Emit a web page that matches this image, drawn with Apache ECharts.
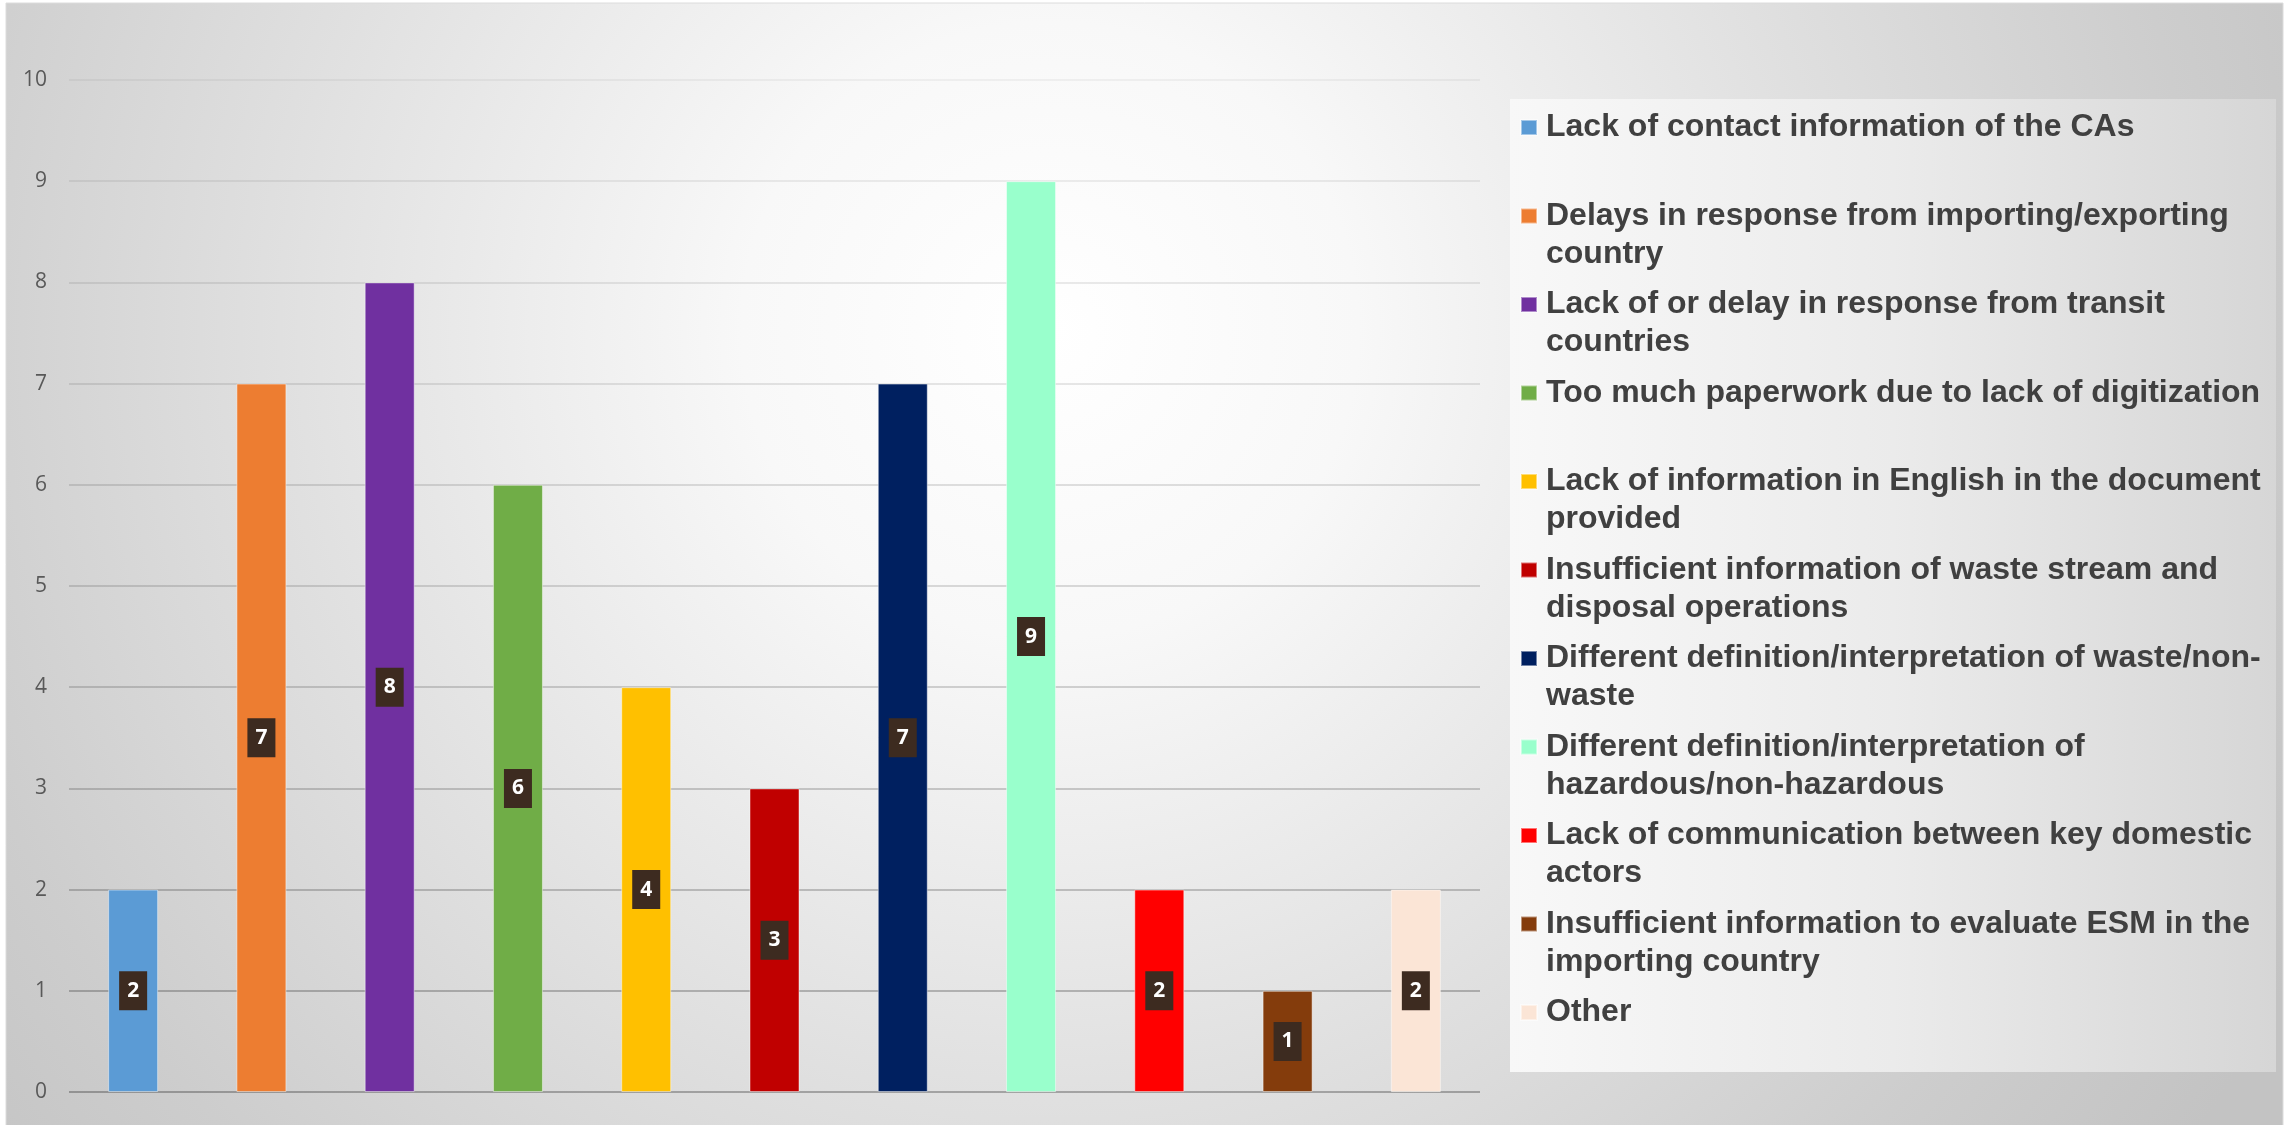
<!DOCTYPE html>
<html><head><meta charset="utf-8">
<script src="https://cdn.jsdelivr.net/npm/echarts@6/dist/echarts.min.js"></script>
<style>html,body{margin:0;padding:0;background:#fff;}#c{width:2295px;height:1125px;}</style>
</head><body><div id="c"></div>
<script>
const categories = [
  'Lack of contact information of the CAs',
  'Delays in response from importing/exporting country',
  'Lack of or delay in response from transit countries',
  'Too much paperwork due to lack of digitization',
  'Lack of information in English in the document provided',
  'Insufficient information of waste stream and disposal operations',
  'Different definition/interpretation of waste/non-waste',
  'Different definition/interpretation of hazardous/non-hazardous',
  'Lack of communication between key domestic actors',
  'Insufficient information to evaluate ESM in the importing country',
  'Other'
];
const legendLabels = [
  'Lack of contact information of the CAs',
  'Delays in response from importing/exporting\ncountry',
  'Lack of or delay in response from transit\ncountries',
  'Too much paperwork due to lack of digitization',
  'Lack of information in English in the document\nprovided',
  'Insufficient information of waste stream and\ndisposal operations',
  'Different definition/interpretation of waste/non-\nwaste',
  'Different definition/interpretation of\nhazardous/non-hazardous',
  'Lack of communication between key domestic\nactors',
  'Insufficient information to evaluate ESM in the\nimporting country',
  'Other'
];
const values = [2, 7, 8, 6, 4, 3, 7, 9, 2, 1, 2];
const colors = ['#5B9BD5','#ED7D31','#7030A0','#70AD47','#FFC000','#C00000','#002060','#99FFCC','#FF0000','#843C0C','#FBE5D6'];
const yMin = 0, yMax = 10, yStep = 1;

const chart = echarts.init(document.getElementById('c'), null, {renderer: 'canvas'});

const series = categories.map((name, i) => ({
  name: name,
  type: 'bar',
  stack: 'all',
  barWidth: 50,
  itemStyle: {color: colors[i], borderColor: 'rgba(255,255,255,0.45)', borderWidth: 1},
  label: {
    show: true,
    position: 'inside',
    color: '#ffffff',
    fontFamily: 'Open Sans',
    fontWeight: 'bold',
    fontSize: 21,
    lineHeight: 29,
    backgroundColor: '#3d2b20',
    padding: [5, 8]
  },
  data: categories.map((c, j) => (j === i ? values[i] : null))
}));

const gridAlphas = ['rgba(0,0,0,0.36)','rgba(0,0,0,0.31)','rgba(0,0,0,0.27)','rgba(0,0,0,0.24)','rgba(0,0,0,0.21)','rgba(0,0,0,0.18)','rgba(0,0,0,0.155)','rgba(0,0,0,0.13)','rgba(0,0,0,0.11)','rgba(0,0,0,0.09)','rgba(0,0,0,0.06)'];

const LINE_H = 38;
const legends = categories.map((name, i) => {
  const lines = legendLabels[i].split('\n').length;
  const firstCenter = 124 + i * 88.5;
  const extra = (lines - 1) * LINE_H;
  return {
    orient: 'vertical',
    left: 1520,
    top: firstCenter - 7.5 - (LINE_H / 2 - 7.5) - extra + 3.5,
    padding: 0,
    itemWidth: 16,
    itemHeight: 15,
    icon: 'rect',
    selectedMode: false,
    data: [name],
    formatter: function (n) {
      const t = legendLabels[categories.indexOf(n)];
      // a leading blank line keeps the marker level with the first text line
      return t.indexOf('\n') >= 0 ? ' \n' + t : t;
    },
    textStyle: {
      color: '#404040',
      fontFamily: 'Liberation Sans',
      fontWeight: 'bold',
      fontSize: 32,
      lineHeight: LINE_H,
      padding: [0, 0, 0, 4]
    }
  };
});

chart.setOption({
  animation: false,
  graphic: [
    {
      type: 'rect', z: -100,
      shape: {x: 6, y: 3, width: 2277, height: 1130},
      style: {
        fill: {type: 'radial', x: 1050, y: 330, r: 1400, global: true,
          colorStops: [
            {offset: 0, color: '#ffffff'},
            {offset: 0.22, color: '#f8f8f8'},
            {offset: 0.55, color: '#e0e0e0'},
            {offset: 0.82, color: '#cdcdcd'},
            {offset: 1, color: '#c3c3c3'}
          ]},
        stroke: '#dcdcdc', lineWidth: 1
      }
    },
    {
      type: 'rect', z: -99,
      shape: {x: 1510, y: 99, width: 766, height: 973},
      style: {
        fill: {type: 'linear', x: 0, y: 0, x2: 1, y2: 0,
          colorStops: [
            {offset: 0, color: '#f8f8f8'},
            {offset: 0.5, color: '#ebebeb'},
            {offset: 1, color: '#d6d6d6'}
          ]}
      }
    }
  ],
  grid: {left: 69, right: 815, top: 80, bottom: 33, containLabel: false},
  xAxis: {
    type: 'category',
    data: categories,
    axisLine: {show: false},
    axisTick: {show: false},
    axisLabel: {show: false},
    splitLine: {show: false}
  },
  yAxis: {
    type: 'value',
    min: yMin, max: yMax, interval: yStep,
    axisLine: {show: false},
    axisTick: {show: false},
    axisLabel: {color: '#595959', fontFamily: 'Open Sans', fontSize: 21, margin: 22},
    splitLine: {show: true, showMinLine: true, showMaxLine: true, lineStyle: {color: gridAlphas, width: 1.5}}
  },
  legend: legends,
  series: series
});
</script>
</body></html>
